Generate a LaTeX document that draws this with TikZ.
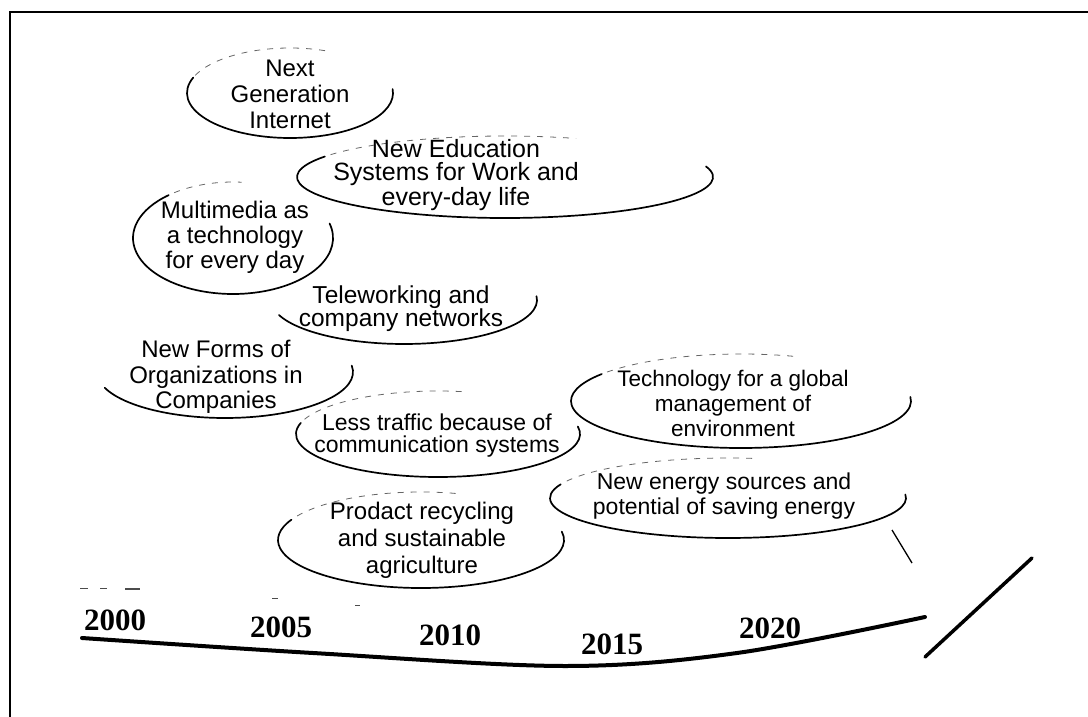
\documentclass[tikz,border=0pt]{standalone}
\usepackage{fontspec}
\setmainfont{Liberation Sans}
\newfontfamily\yearfont{Liberation Serif}
\usetikzlibrary{calc}
\tikzset{
  lbl/.style={align=center, font=\fontsize{23.5}{25}\selectfont, inner sep=0pt},
  yr/.style={font=\yearfont\bfseries\fontsize{31}{31}\selectfont, inner sep=0pt},
  rim/.style={line width=1.7pt, line cap=round},
  faint/.style={line width=0.8pt, dash pattern=on 6pt off 7pt, black!60},
  speck/.style={line width=1pt, black!70},
}
\newcommand\earc[6]{\draw[#1] ($(#2)+(#5:#3 and #4)$) arc[start angle=#5, end angle=#6, x radius=#3, y radius=#4];}
\begin{document}
\begin{tikzpicture}[x=1pt,y=-1pt]
\useasboundingbox (0,0) rectangle (1088,717);
% frame
\coordinate (fTR) at (1088,12);
\coordinate (fTL) at (10,12);
\coordinate (fBL) at (10,717);
\draw[line width=1.5pt] (fTR) -- (fTL) -- (fBL);

% ellipse centres
\coordinate (cNGI) at (290,93);
\coordinate (cNED) at (505,177);
\coordinate (cMM)  at (233,238);
\coordinate (cTW)  at (404,300);
\coordinate (cNF)  at (225,372);
\coordinate (cLT)  at (438,434);
\coordinate (cPR)  at (421,540);
\coordinate (cTG)  at (741,401);
\coordinate (cNE)  at (728,498);

% ellipses (hand-drawn look: solid lower part, faint dashed top)
\earc{rim}{cNGI}{103}{45}{-5}{200}
\earc{faint}{cNGI}{103}{45}{203}{290}
\earc{rim}{cNED}{208}{41}{-15}{210}
\earc{faint}{cNED}{208}{41}{213}{290}
\earc{rim}{cMM}{100}{56}{-15}{230}
\earc{faint}{cMM}{100}{56}{234}{275}
\earc{rim}{cTW}{133}{44}{-5}{160}
\earc{rim}{cNF}{128}{46}{-8}{160}
\earc{rim}{cLT}{142}{43}{-10}{195}
\earc{faint}{cLT}{142}{43}{200}{280}
\earc{rim}{cPR}{143}{48}{-10}{205}
\earc{faint}{cPR}{143}{48}{210}{285}
\earc{rim}{cTG}{170}{47}{-5}{215}
\earc{faint}{cTG}{170}{47}{218}{290}
\earc{rim}{cNE}{178}{40}{-5}{200}
\earc{faint}{cNE}{178}{40}{205}{280}

% labels
\node[lbl, font=\fontsize{24}{26}\selectfont] (ngi) at (290,94) {Next\\Generation\\Internet};
\node[lbl, font=\fontsize{25}{23}\selectfont] (ned) at (456,175) {New Education\\Systems for Work and\\every-day life};
\node[lbl, font=\fontsize{24}{25}\selectfont] (mm) at (235,237) {Multimedia as\\a technology\\for every day};
\node[lbl, font=\fontsize{24.5}{23}\selectfont] (tw) at (401,309) {Teleworking and\\company networks};
\node[lbl, font=\fontsize{24}{25.5}\selectfont] (nf) at (216,377) {New Forms of\\Organizations in\\Companies};
\node[lbl, font=\fontsize{23}{22}\selectfont] (lt) at (437,436) {Less traffic because of\\communication systems};
\node[lbl, font=\fontsize{24}{27}\selectfont] (pr) at (422,540) {Prodact recycling\\and sustainable\\agriculture};
\node[lbl, font=\fontsize{22.5}{25}\selectfont] (tg) at (733,403) {Technology for a global\\management of\\environment};
\node[lbl, font=\fontsize{23}{25}\selectfont] (ne) at (724,496) {New energy sources and\\potential of saving energy};

% years
\node[yr] (y00) at (115,620) {2000};
\node[yr] (y05) at (281,627) {2005};
\node[yr] (y10) at (450,635) {2010};
\node[yr] (y15) at (612,644) {2015};
\node[yr] (y20) at (770,628) {2020};

% timeline
\draw[line width=4pt, line cap=round] plot[smooth, tension=0.55] coordinates {(82,638) (313,653) (565,666) (737,653) (925,617)};
\coordinate (s1) at (925,657);
\coordinate (s2) at (1032,558);
\draw[line width=3.5pt, line cap=round] (s1) -- (s2);
\coordinate (k1) at (892,530);
\coordinate (k2) at (912,563);
\draw[line width=1.3pt] (k1) -- (k2);

% specks
\draw[speck] (80,588) -- (88,588);
\draw[speck] (100,588) -- (107,588);
\draw[speck, line width=1.5pt] (125,589) -- (140,589);
\draw[speck] (272,598) -- (278,598);
\draw[speck] (355,605) -- (360,605);
\end{tikzpicture}
\end{document}
